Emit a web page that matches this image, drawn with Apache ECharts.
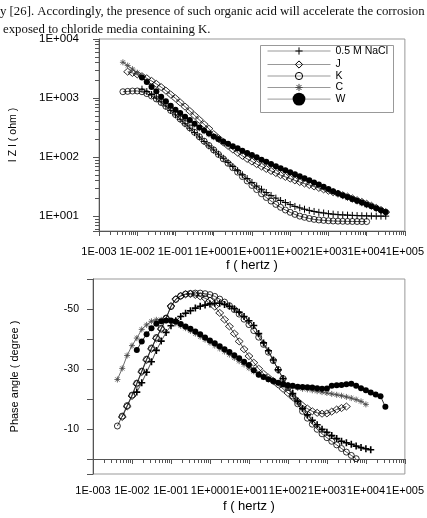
<!DOCTYPE html>
<html><head><meta charset="utf-8">
<script src="https://cdn.jsdelivr.net/npm/echarts@6/dist/echarts.min.js"></script>
<style>html,body{margin:0;padding:0;background:#fff}#c{width:427px;height:518px}</style>
</head><body><div id="c"></div>
<script>
// Frequencies (Hz)
const freq = [0.00422,0.00562,0.0075,0.01,0.0133,0.0178,0.0237,0.0316,0.0422,0.0562,0.075,0.1,0.133,0.178,0.237,0.316,0.422,0.562,0.75,1,1.33,1.78,2.37,3.16,4.22,5.62,7.5,10,13.3,17.8,23.7,31.6,42.2,56.2,75,100,133,178,237,316,422,562,750,1000,1330,1780,2370,3160,4220,5620,7500,10000,13300,17800,23700,31600];
const seriesNames = ['0.5 M NaCl','J','K','C','W'];
const xTickLabels = ['1E-003','1E-002','1E-001','1E+000','1E+001','1E+002','1E+003','1E+004','1E+005'];
const yTickLabelsZ = ['1E+001','1E+002','1E+003','1E+004'];
const yTickLabelsPhase = ['-50','-30','-10'];
// |Z| (ohm)
const zNaCl = [null,null,null,null,1413,1288,1148,1000,861,733,617,519,437,367,309,260,219,184,155,132,112,95.5,81.3,69.2,58.9,50.1,43.2,37.2,32.4,28.5,25.1,22.4,20.2,18.4,17.0,15.7,14.6,13.8,13.1,12.5,12.0,11.6,11.3,11.0,10.8,10.6,10.5,10.4,10.3,10.2,10.15,10.1,10.05,10.0,10.0,10.0];
const zJ = [null,2793,2661,2512,2344,2163,1950,1738,1531,1334,1148,989,841,716,603,507,427,359,302,245,209,178,155,135,119,105,93.3,84.1,75.9,69.2,63.1,58.2,53.7,49.5,46.2,43.2,40.3,37.8,35.6,33.7,31.8,30.1,28.4,26.9,25.4,24.0,22.6,21.4,20.0,18.6,17.4,16.2,15.0,13.8,12.7,11.7];
const zK = [1279,1297,1315,1318,1279,1189,1084,966,841,724,617,525,442,372,313,263,221,186,157,132,111,93.3,78.5,66.1,55.6,46.8,39.4,33.1,28.2,24.0,20.7,18.0,15.8,14.1,12.7,11.6,10.7,10.0,9.55,9.12,8.81,8.61,8.47,8.36,8.28,8.22,8.18,8.15,8.13,8.11,8.09,8.09,null,null,null,null];
const zC = [4027,3548,3090,2692,2291,1905,1585,1265,1015,855,719,612,540,470,411,356,307,274,243,217,196,178,163,148,137,124,113,105,96,87.5,80.7,73.9,68,62.7,58.2,53.8,49.8,45.9,42.6,39.3,36.1,33.2,30.5,27.9,25.7,23.7,21.9,20.4,18.9,17.7,16.5,15.3,null,null,null,null];
const zW = [null,null,null,null,2239,1862,1531,1303,1047,881,741,631,556,484,424,367,316,282,251,224,202,183,168,153,141,128,117,108,98.9,90.2,83.2,76.2,70.1,64.6,60.0,55.5,51.3,47.3,43.9,40.5,37.2,34.2,31.4,28.8,26.5,24.4,22.6,21.0,19.5,18.2,17.0,15.8,14.7,13.6,12.6,11.7];
// Phase angle (degree)
const pNaCl = [null,null,null,null,-22.3,-25.4,-28.9,-32.4,-36.2,-39.3,-42.2,-44.4,-46.1,-47.5,-48.6,-49.4,-50.3,-50.9,-51.3,-51.7,-51.9,-51.9,-51.5,-50.9,-50.1,-48.9,-47.5,-46.1,-44.5,-41.8,-38.7,-36.1,-33.0,-29.7,-26.8,-24.3,-21.8,-19.3,-16.8,-14.7,-12.9,-11.4,-9.9,-8.9,-7.8,-6.8,-5.9,-5.4,-4.9,-4.3,-3.8,-3.4,-3.1,null,null,null];
const pJ = [null,-14.0,-17.5,-21.0,-25.0,-29.0,-33.0,-36.7,-40.2,-43.3,-46.8,-51.0,-53.3,-54.3,-54.9,-55.0,-54.7,-54.2,-53.6,-52.8,-50.8,-48.7,-46.5,-44.2,-41.8,-39.2,-36.6,-34.3,-32.1,-30.1,-28.4,-27.1,-26.0,-24.8,-23.4,-22.0,-20.6,-19.2,-17.8,-16.8,-15.9,-15.4,-15.1,-15.2,-15.8,-16.5,-17.0,-17.5,null,null,null,null,null,null,null,null];
const pK = [-11.0,-14.3,-17.8,-21.3,-25.3,-29.3,-33.3,-37.0,-40.5,-43.6,-47.0,-50.8,-53.2,-54.4,-55.0,-55.2,-55.3,-55.3,-55.1,-54.8,-54.2,-53.3,-52.3,-51.1,-49.8,-48.3,-46.6,-44.8,-42.8,-40.6,-38.2,-35.6,-32.8,-29.8,-26.8,-23.8,-21.0,-18.4,-15.9,-13.6,-11.6,-9.9,-8.4,-7.1,-5.9,-4.7,-3.5,-2.3,-1.2,-0.1,null,null,null,null,null,null];
const pC = [-26.5,-30.2,-34.5,-37.8,-40.3,-43.2,-44.7,-45.9,-46.4,-46.4,-46.2,-45.8,-45.2,-44.4,-43.6,-42.7,-41.8,-40.8,-39.8,-38.8,-37.8,-36.8,-35.8,-34.8,-33.7,-32.6,-31.5,-30.3,-29.2,-28.2,-27.3,-26.5,-25.8,-25.2,-24.7,-24.3,-24.0,-23.7,-23.4,-23.2,-22.9,-22.6,-22.3,-22.0,-21.7,-21.4,-21.1,-20.7,-20.3,-19.8,-19.2,-18.2,null,null,null,null];
const pW = [null,null,null,null,-36.3,-39.2,-41.6,-43.6,-45.1,-45.9,-46.2,-46.2,-45.8,-45.0,-44.2,-43.4,-42.5,-41.6,-40.5,-39.5,-38.6,-37.6,-36.6,-35.7,-34.6,-33.6,-32.4,-31.3,-29.6,-28.1,-27.3,-26.6,-26.0,-25.4,-24.9,-24.6,-24.4,-24.1,-24.0,-23.9,-23.8,-23.6,-23.4,-23.5,-24.4,-24.6,-24.7,-24.9,-25.1,-24.4,-23.6,-22.9,-22.2,-21.5,-20.9,-17.4];

const zData = [zNaCl, zJ, zK, zC, zW];
const pData = [pNaCl, pJ, pK, pC, pW];

function pairs(vals){ const out=[]; vals.forEach((v,i)=>{ if(v!==null) out.push([freq[i], v]); }); return out; }
function expLabel(list){
  return function(v){
    const l = Math.log10(v); const e = Math.round(l);
    if (Math.abs(l-e) > 1e-6) return '';
    const s = '1E' + (e<0?'-':'+') + String(Math.abs(e)).padStart(3,'0');
    return list.indexOf(s) >= 0 ? s : '';
  };
}
const FONT = 'Liberation Sans, Arial, sans-serif';
const styles = [
  {symbol:'path://M0,5L10,5M5,0L5,10', size:7, fill:'rgba(0,0,0,0)', stroke:'#000', bw:[1,1.6], line:'#222'},
  {symbol:'diamond', size:[8,7], fill:'rgba(0,0,0,0)', stroke:'#000', bw:[0.8,0.8], line:'#222'},
  {symbol:'circle', size:6, fill:'rgba(0,0,0,0)', stroke:'#000', bw:[0.8,0.8], line:'#222'},
  {symbol:'path://M0,5L10,5M5,0L5,10M1.5,1.5L8.5,8.5M1.5,8.5L8.5,1.5', size:6, fill:'rgba(0,0,0,0)', stroke:'#444', bw:[0.8,0.8], line:'#444'},
  {symbol:'circle', size:6, fill:'#000', stroke:'#000', bw:[0,0], line:'#000'}
];
const series = [];
seriesNames.forEach((n,k)=>{
  const st = styles[k];
  [0,1].forEach(g=>{
    series.push({
      name:n, type:'line', xAxisIndex:g, yAxisIndex:g,
      data: pairs(g===0 ? zData[k] : pData[k]),
      symbol: st.symbol, symbolSize: st.size, showAllSymbol:true,
      itemStyle:{color:st.fill, borderColor:st.stroke, borderWidth:st.bw[g]},
      lineStyle:{color:st.line, width:0.8},
      z: 3 + (k===4 ? 1 : 0),
      animation:false, emphasis:{disabled:true}
    });
  });
});

const axisLineStyle = {color:'#555', width:1};
function xAxisCfg(g){
  return {
    type:'log', logBase:10, gridIndex:g, min:0.001, max:100000,
    name:'f ( hertz )', nameLocation:'middle', nameGap: g===0?27.5:26,
    nameTextStyle:{fontSize:13, fontFamily:FONT, color:'#000'},
    axisLine:{show:true, lineStyle:axisLineStyle},
    axisTick:{show:true, inside:false, length:5, lineStyle:{color:'#555'}},
    minorTick:{show:true, splitNumber:9, length:4, lineStyle:{color:'#555'}},
    splitLine:{show:false}, minorSplitLine:{show:false},
    axisLabel:{formatter:expLabel(xTickLabels), interval:0, hideOverlap:false, showMinLabel:true, showMaxLabel:true,
      margin: g===0?15:11.5, fontSize:11, fontFamily:FONT, color:'#000'}
  };
}
const option = {
  animation:false,
  backgroundColor:'#fff',
  grid:[
    {left:97, top:39, width:320, height:192, show:true, borderColor:'#999', borderWidth:1},
    {left:93, top:279, width:320, height:195, show:true, borderColor:'#999', borderWidth:1}
  ],
  xAxis:[xAxisCfg(0), xAxisCfg(1)],
  yAxis:[
    {type:'log', logBase:10, gridIndex:0, min:5.6, max:10000,
     name:'I Z I ( ohm )', nameLocation:'middle', nameGap:80,
     nameTextStyle:{fontSize:10.5, fontFamily:FONT, color:'#000'},
     axisLine:{show:true, lineStyle:axisLineStyle},
     axisTick:{show:true, length:6, lineStyle:{color:'#555'}},
     minorTick:{show:true, splitNumber:9, length:4, lineStyle:{color:'#555'}},
     splitLine:{show:false},
     axisLabel:{formatter:expLabel(yTickLabelsZ), margin:20, fontSize:11.5, fontFamily:FONT, color:'#000'}},
    {type:'value', gridIndex:1, min:-60, max:5, interval:10, inverse:true,
     name:'Phase angle ( degree )', nameLocation:'middle', nameGap:73,
     nameTextStyle:{fontSize:11, fontFamily:FONT, color:'#000'},
     axisLine:{show:true, lineStyle:axisLineStyle},
     axisTick:{show:true, length:6, lineStyle:{color:'#555'}},
     splitLine:{show:false},
     axisLabel:{formatter:function(v){ return yTickLabelsPhase.indexOf(String(v))>=0 ? String(v) : ''; }, margin:14, fontSize:10.5, fontFamily:FONT, color:'#000'}}
  ],
  legend: seriesNames.map((n,k)=>({
    data:[n], left:267, top:[45.5,59,70.5,82,92.7][k], padding:0, orient:'horizontal',
    itemWidth:63, itemHeight: k===4?16:9, selectedMode:false, z:10,
    textStyle:{fontSize:10.5, fontFamily:FONT, color:'#000'},
    lineStyle:{color:'#999', width:1},
    itemStyle:{borderWidth: k===4?0:1}
  })),
  graphic:[
    {type:'rect', shape:{x:260.5, y:45.5, width:133, height:67}, style:{fill:'#fff', stroke:'#999', lineWidth:1}, z:5},
    {type:'text', x:0, y:12, style:{text:'y [26]. Accordingly, the presence of such organic acid will accelerate the corrosion', font:'12.8px "Liberation Serif", "Times New Roman", serif', fill:'#111', verticalAlign:'middle'}, z:10},
    {type:'text', x:3, y:30, style:{text:'exposed to chloride media containing K.', font:'12.8px "Liberation Serif", "Times New Roman", serif', fill:'#111', verticalAlign:'middle'}, z:10}
  ],
  series: series
};
const chart = echarts.init(document.getElementById('c'));
chart.setOption(option);
</script>
</body></html>
